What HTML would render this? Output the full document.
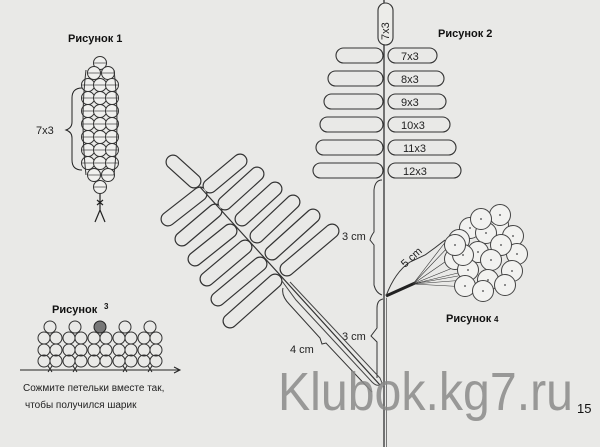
<!DOCTYPE html>
<html><head><meta charset="utf-8"><style>
html,body{margin:0;padding:0;background:#e9e9e7;}
svg{display:block}
text{font-family:"Liberation Sans",sans-serif;}
</style></head><body>
<svg width="600" height="447" viewBox="0 0 600 447" xmlns="http://www.w3.org/2000/svg">
<rect width="600" height="447" fill="#e9e9e7"/>
<defs>
<g id="b"><circle r="6.5" fill="#f0f0ee" stroke="#333" stroke-width="1"/><line x1="-6" y1="0" x2="6" y2="0" stroke="#555" stroke-width="0.8"/></g>
<g id="bb"><circle r="10.5" fill="#f2f2f0" stroke="#444" stroke-width="1"/><circle r="0.9" fill="#444"/></g>
</defs>

<!-- Figure 1 -->
<text x="68" y="42" font-size="11" font-weight="bold" fill="#111">Рисунок 1</text>
<g>
<use href="#b" x="100" y="63"/>
<use href="#b" x="94" y="73"/><use href="#b" x="108" y="73"/>
<g id="r">
<use href="#b" x="88" y="85"/><use href="#b" x="100" y="85"/><use href="#b" x="112" y="85"/>
</g>
<use href="#r" y="13"/><use href="#r" y="26"/><use href="#r" y="39"/><use href="#r" y="52"/><use href="#r" y="65"/><use href="#r" y="78"/>
<use href="#b" x="94" y="175"/><use href="#b" x="108" y="175"/>
<use href="#b" x="100" y="187"/>
<path d="M86 70 Q80 120 86 175 M114 70 Q120 120 114 175" fill="none" stroke="#333" stroke-width="1"/>
<path d="M100 194 L100 210 L95 222 M100 210 L105 222 M97 200 L103 205 M103 200 L97 205" fill="none" stroke="#222" stroke-width="1.2"/>
</g>
<path d="M82 88 Q72 88 72 98 L72 122 Q72 128 66 130 Q72 132 72 138 L72 160 Q72 170 82 170" fill="none" stroke="#222" stroke-width="1"/>
<text x="36" y="134" font-size="11" fill="#222">7x3</text>

<!-- Figure 3 -->
<text x="52" y="313" font-size="11" font-weight="bold" fill="#111">Рисунок</text>
<text x="104" y="309" font-size="8" font-weight="bold" fill="#111">3</text>
<g>
<g id="g3">
<circle cx="50" cy="327" r="6" fill="none" stroke="#333"/>
<circle cx="44" cy="338" r="6" fill="none" stroke="#333"/><circle cx="56" cy="338" r="6" fill="none" stroke="#333"/>
<circle cx="44" cy="350" r="6" fill="none" stroke="#333"/><circle cx="56" cy="350" r="6" fill="none" stroke="#333"/>
<circle cx="44" cy="361" r="6" fill="none" stroke="#333"/><circle cx="56" cy="361" r="6" fill="none" stroke="#333"/>
<path d="M48 372 L52 366 M52 372 L48 366" stroke="#222"/>
</g>
<use href="#g3" x="25"/><use href="#g3" x="75"/><use href="#g3" x="100"/>
<circle cx="100" cy="327" r="6" fill="#777" stroke="#222"/>
<circle cx="94" cy="338" r="6" fill="none" stroke="#333"/><circle cx="106" cy="338" r="6" fill="none" stroke="#333"/>
<circle cx="94" cy="350" r="6" fill="none" stroke="#333"/><circle cx="106" cy="350" r="6" fill="none" stroke="#333"/>
<circle cx="94" cy="361" r="6" fill="none" stroke="#333"/><circle cx="106" cy="361" r="6" fill="none" stroke="#333"/>
<line x1="20" y1="370" x2="180" y2="370" stroke="#222"/>
<path d="M174 367 L180 370 L174 373" fill="none" stroke="#222"/>
</g>
<text x="23" y="391" font-size="10" fill="#222">Сожмите петельки вместе так,</text>
<text x="25" y="408" font-size="10" fill="#222">чтобы получился шарик</text>

<!-- Figure 2 main stem -->
<line x1="384" y1="0" x2="384" y2="447" stroke="#333" stroke-width="1.3"/>
<line x1="386.5" y1="298" x2="386.5" y2="447" stroke="#777" stroke-width="1"/>
<g fill="none" stroke="#333" stroke-width="1.1">
<rect x="378" y="3" width="15" height="42" rx="7.5" fill="#ecece9"/>
<rect x="388" y="48" width="49" height="15" rx="7.5"/>
<rect x="388" y="71" width="56" height="15" rx="7.5"/>
<rect x="388" y="94" width="58" height="15" rx="7.5"/>
<rect x="388" y="117" width="62" height="15" rx="7.5"/>
<rect x="388" y="140" width="68" height="15" rx="7.5"/>
<rect x="388" y="163" width="73" height="15" rx="7.5"/>
<rect x="336" y="48" width="47" height="15" rx="7.5"/>
<rect x="328" y="71" width="55" height="15" rx="7.5"/>
<rect x="324" y="94" width="59" height="15" rx="7.5"/>
<rect x="320" y="117" width="63" height="15" rx="7.5"/>
<rect x="316" y="140" width="67" height="15" rx="7.5"/>
<rect x="313" y="163" width="70" height="15" rx="7.5"/>
</g>
<text x="0" y="0" font-size="11" fill="#222" transform="translate(389,40) rotate(-90)">7x3</text>
<g font-size="11" fill="#222">
<text x="401" y="60">7x3</text><text x="401" y="83">8x3</text><text x="401" y="106">9x3</text>
<text x="401" y="129">10x3</text><text x="403" y="152">11x3</text><text x="403" y="175">12x3</text>
</g>
<text x="438" y="37" font-size="11" font-weight="bold" fill="#111">Рисунок 2</text>
<path d="M382 180 Q375 180 374 190 L374 232 Q371 236 370 240 L374 245 L374 285 Q376 293 382 295" fill="none" stroke="#333" stroke-width="1"/>
<text x="342" y="240" font-size="11" fill="#222">3 cm</text>
<path d="M383 299 Q377 300 377 308 L377 328 L371 336 L377 342 L377 378" fill="none" stroke="#333" stroke-width="1"/>
<text x="342" y="340" font-size="11" fill="#222">3 cm</text>

<!-- Diagonal branch -->
<g stroke-linecap="round" fill="none">
<g stroke="#333" stroke-width="15">
<line x1="173" y1="162" x2="194" y2="181"/>
<line x1="210" y1="186" x2="240" y2="161"/><line x1="225" y1="203" x2="257" y2="174"/><line x1="242" y1="219" x2="275" y2="189"/>
<line x1="257" y1="236" x2="293" y2="202"/><line x1="272" y1="253" x2="313" y2="216"/><line x1="287" y1="269" x2="332" y2="231"/>
<line x1="168" y1="219" x2="200" y2="194"/><line x1="182" y1="239" x2="215" y2="211"/><line x1="195" y1="259" x2="230" y2="231"/>
<line x1="207" y1="279" x2="245" y2="247"/><line x1="218" y1="299" x2="260" y2="264"/><line x1="230" y1="321" x2="275" y2="281"/>
</g>
<g stroke="#e9e9e7" stroke-width="12.6">
<line x1="173" y1="162" x2="194" y2="181"/>
<line x1="210" y1="186" x2="240" y2="161"/><line x1="225" y1="203" x2="257" y2="174"/><line x1="242" y1="219" x2="275" y2="189"/>
<line x1="257" y1="236" x2="293" y2="202"/><line x1="272" y1="253" x2="313" y2="216"/><line x1="287" y1="269" x2="332" y2="231"/>
<line x1="168" y1="219" x2="200" y2="194"/><line x1="182" y1="239" x2="215" y2="211"/><line x1="195" y1="259" x2="230" y2="231"/>
<line x1="207" y1="279" x2="245" y2="247"/><line x1="218" y1="299" x2="260" y2="264"/><line x1="230" y1="321" x2="275" y2="281"/>
</g>
</g>
<line x1="200" y1="187" x2="380" y2="385" stroke="#333" stroke-width="1.2"/>
<path d="M282 281 L296 300 L372 382 Q378 388 382 383 L380 378 L290 282" fill="none" stroke="#444" stroke-width="1"/>
<path d="M283 288 Q281 296 290 305 L320 338 L322 344 L326 343 L372 392" fill="none" stroke="#333" stroke-width="1"/>
<text x="290" y="353" font-size="11" fill="#222">4 cm</text>

<!-- Figure 4 berry -->
<path d="M386 296 L415 283" stroke="#222" stroke-width="3"/>
<path d="M386 296 Q395 272 410 262 L425 255 Q435 248 445 240" fill="none" stroke="#333" stroke-width="1"/>
<g stroke="#333" stroke-width="0.6">
<line x1="413" y1="284" x2="450" y2="245"/><line x1="413" y1="284" x2="455" y2="255"/><line x1="413" y1="284" x2="460" y2="265"/>
<line x1="413" y1="284" x2="462" y2="272"/><line x1="413" y1="284" x2="465" y2="280"/><line x1="413" y1="284" x2="468" y2="287"/>
<line x1="413" y1="284" x2="450" y2="236"/><line x1="413" y1="284" x2="458" y2="276"/>
</g>
<text x="0" y="0" font-size="11" fill="#222" transform="translate(405,268) rotate(-42)">5 cm</text>
<g>
<use href="#bb" x="498" y="225"/><use href="#bb" x="470" y="228"/><use href="#bb" x="513" y="236"/>
<use href="#bb" x="486" y="233"/><use href="#bb" x="459" y="240"/><use href="#bb" x="517" y="254"/>
<use href="#bb" x="501" y="245"/><use href="#bb" x="478" y="252"/><use href="#bb" x="455" y="259"/>
<use href="#bb" x="491" y="260"/><use href="#bb" x="468" y="270"/><use href="#bb" x="512" y="271"/>
<use href="#bb" x="488" y="280"/><use href="#bb" x="465" y="286"/><use href="#bb" x="505" y="285"/>
<use href="#bb" x="483" y="291"/><use href="#bb" x="500" y="215"/><use href="#bb" x="481" y="219"/>
<use href="#bb" x="463" y="255"/><use href="#bb" x="455" y="245"/>
</g>
<text x="446" y="322" font-size="11" font-weight="bold" fill="#111">Рисунок</text>
<text x="494" y="322" font-size="8" font-weight="bold" fill="#111">4</text>

<!-- watermark -->
<text x="278" y="410" font-size="54" fill="#8a8a88" fill-opacity="0.85" textLength="295" lengthAdjust="spacingAndGlyphs">Klubok.kg7.ru</text>
<text x="577" y="413" font-size="13" font-family="Liberation Serif,serif" fill="#111">15</text>
</svg>
</body></html>
